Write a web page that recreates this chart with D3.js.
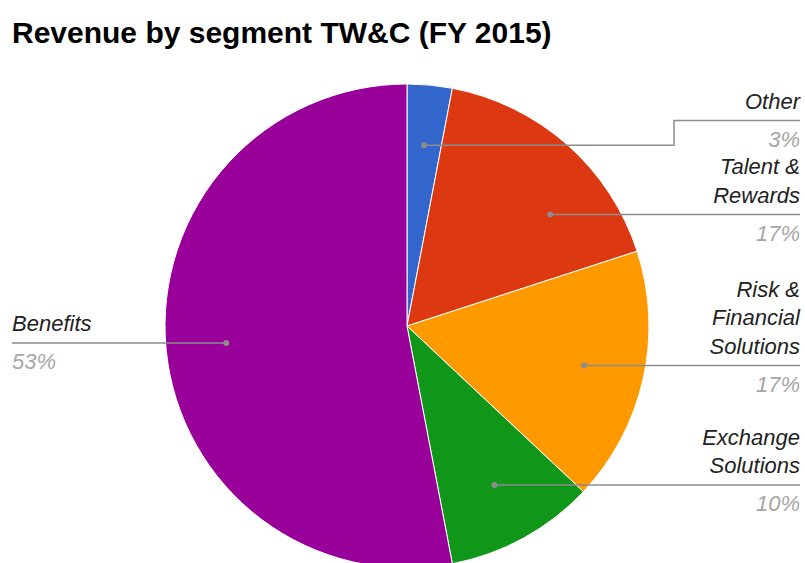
<!DOCTYPE html>
<html>
<head>
<meta charset="utf-8">
<script src="https://cdn.jsdelivr.net/npm/d3@7/dist/d3.min.js"></script>
<style>
  body { margin: 0; background: #fff; }
  text { font-family: "Liberation Sans", Arial, sans-serif; }
</style>
</head>
<body>
<svg width="805" height="563"></svg>
<script>
var segments = ["Other", "Talent & Rewards", "Risk & Financial Solutions", "Exchange Solutions", "Benefits"];
var shares = [3, 17, 17, 10, 53];
var nameLines = [["Other"], ["Talent &", "Rewards"], ["Risk &", "Financial", "Solutions"], ["Exchange", "Solutions"], ["Benefits"]];
var sliceColors = ["#3366cc", "#dc3912", "#ff9900", "#109618", "#990099"];

var width = 805, height = 563;
var cx = 407, cy = 326, radius = 242;
var dotRadius = radius * 0.75;
var lineHeight = 28.5;
var rightEdge = 800, leftEdge = 12;

var svg = d3.select("svg");

// Title
svg.append("text")
    .attr("x", 12)
    .attr("y", 43)
    .style("font-size", "30px")
    .style("font-weight", "bold")
    .attr("fill", "#000")
    .text("Revenue by segment TW&C (FY 2015)");

var pie = d3.pie().sort(null).value(d => d);
var arcs = pie(shares);
var arc = d3.arc().innerRadius(0).outerRadius(radius);

var g = svg.append("g").attr("transform", "translate(" + cx + "," + cy + ")");

// Slices
g.selectAll("path.slice")
    .data(arcs)
    .enter()
    .append("path")
    .attr("class", "slice")
    .attr("d", arc)
    .attr("fill", (d, i) => sliceColors[i])
    .attr("stroke", "#fff")
    .attr("stroke-width", 1);

// Label layout
var labels = arcs.map(function (d, i) {
    var mid = (d.startAngle + d.endAngle) / 2;
    return {
        i: i,
        a: d,
        mid: mid,
        side: mid < Math.PI ? "right" : "left",
        dotX: Math.sin(mid) * dotRadius,
        dotY: -Math.cos(mid) * dotRadius,
        lineY: -Math.cos(mid) * dotRadius
    };
});

function spread(list) {
    list.sort((p, q) => p.lineY - q.lineY);
    for (var iter = 0; iter < 30; iter++) {
        for (var k = 0; k < list.length - 1; k++) {
            var up = list[k], down = list[k + 1];
            var need = 30 + lineHeight * nameLines[down.i].length + 7;
            var diff = down.lineY - up.lineY;
            if (diff < need) {
                up.lineY -= (need - diff) / 2;
                down.lineY += (need - diff) / 2;
            }
        }
    }
}
spread(labels.filter(l => l.side === "right"));
spread(labels.filter(l => l.side === "left"));

var leaderColor = "#8c8c8c";

labels.forEach(function (l) {
    var right = l.side === "right";
    var endX = (right ? rightEdge : leftEdge) - cx;
    var pts;
    if (Math.abs(l.lineY - l.dotY) < 0.5) {
        pts = [[l.dotX, l.dotY], [endX, l.lineY]];
    } else if (Math.abs(l.lineY) < dotRadius) {
        // slide dot along the inner circle to meet the label line
        var dx = Math.sqrt(dotRadius * dotRadius - l.lineY * l.lineY) * (right ? 1 : -1);
        var ang = Math.atan2(dx, -l.lineY);
        if (ang < 0) ang += 2 * Math.PI;
        if (ang > l.a.startAngle && ang < l.a.endAngle) {
            l.dotX = dx;
            l.dotY = l.lineY;
            pts = [[l.dotX, l.dotY], [endX, l.lineY]];
        }
    }
    if (!pts) {
        var bendX = (radius + 25) * (right ? 1 : -1);
        pts = [[l.dotX, l.dotY], [bendX, l.dotY], [bendX, l.lineY], [endX, l.lineY]];
    }

    g.append("path")
        .attr("d", d3.line()(pts))
        .attr("fill", "none")
        .attr("stroke", leaderColor)
        .attr("stroke-width", 1.5);

    g.append("circle")
        .attr("cx", l.dotX)
        .attr("cy", l.dotY)
        .attr("r", 3)
        .attr("fill", leaderColor);

    var lines = nameLines[l.i];
    var anchor = right ? "end" : "start";
    lines.forEach(function (t, j) {
        g.append("text")
            .attr("x", endX)
            .attr("y", l.lineY - 12 - (lines.length - 1 - j) * lineHeight)
            .attr("text-anchor", anchor)
            .style("font-size", "22px")
            .style("font-style", "italic")
            .attr("fill", "#222")
            .text(t);
    });

    g.append("text")
        .attr("x", endX)
        .attr("y", l.lineY + 26)
        .attr("text-anchor", anchor)
        .style("font-size", "22px")
        .style("font-style", "italic")
        .attr("fill", "#a6a6a6")
        .text(Math.round(shares[l.i]) + "%");
});
</script>
</body>
</html>
